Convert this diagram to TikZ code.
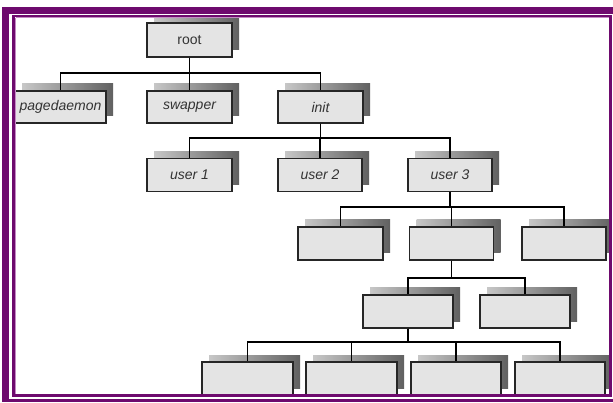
\documentclass[tikz,border=0pt]{standalone}
\usepackage{fontspec}
\setmainfont{Liberation Sans}
\usetikzlibrary{shadows}
\definecolor{pFrame}{HTML}{6E0A6E}
\definecolor{pFrameLight}{HTML}{C48AC4}
\definecolor{pBox}{HTML}{E4E4E4}
\definecolor{pText}{HTML}{333333}

\tikzset{
  proc/.style={draw=black!85, line width=1.3pt, fill=pBox, text=pText,
    minimum width=86pt, minimum height=33pt, inner sep=0pt,
    font=\fontsize{14}{16}\selectfont\itshape,
    general shadow={shadow xshift=7pt, shadow yshift=7pt, draw=none,
      left color=black!22, right color=black!62}},
  treeline/.style={line width=1.8pt, to path={(\tikztostart.south) -- ++(0,#1) -| (\tikztotarget.north)}},
  treeline/.default=15,
}

\begin{document}
\begin{tikzpicture}[x=1pt, y=-1pt]
  \useasboundingbox (0,0) rectangle (613,403);

  \begin{scope}
    \clip (14,17) rectangle (609,394);

    % first level
    \node[proc, minimum width=85pt, minimum height=34pt, font=\fontsize{14}{16}\selectfont] (root) at (189.5,40) {root};
    \node[proc, minimum width=91pt, minimum height=32pt] (pagedaemon) at (60.5,107) {pagedaemon};
    \node[proc, minimum width=85pt, minimum height=32pt] (swapper) at (189.5,107) {swapper};
    \node[proc, minimum width=85pt, minimum height=32pt] (init) at (320.5,107) {init};

    % users
    \node[proc, minimum width=85pt] (user1) at (189.5,175) {user 1};
    \node[proc, minimum width=84pt] (user2) at (320,175) {user 2};
    \node[proc, minimum width=84pt] (user3) at (450,175) {user 3};

    % processes of user 3
    \node[proc, minimum width=85pt] (p1) at (340.5,243.5) {};
    \node[proc, minimum width=84pt] (p2) at (451.5,243.5) {};
    \node[proc, minimum width=84pt] (p3) at (564,243.5) {};

    \node[proc, minimum width=90pt] (q1) at (408,311.5) {};
    \node[proc, minimum width=90pt] (q2) at (525,311.5) {};

    \node[proc, minimum width=91pt] (r1) at (247.5,378.5) {};
    \node[proc, minimum width=91pt] (r2) at (351.5,378.5) {};
    \node[proc, minimum width=90pt] (r3) at (456,378.5) {};
    \node[proc, minimum width=90pt] (r4) at (560,378.5) {};

    % connectors
    \draw (root) edge[treeline] (pagedaemon) edge[treeline] (swapper) edge[treeline] (init);
    \draw (init) edge[treeline=14] (user1) edge[treeline=14] (user2) edge[treeline=14] (user3);
    \draw (user3) edge[treeline] (p1) edge[treeline] (p2) edge[treeline] (p3);
    \draw (p2) edge[treeline=17] (q1) edge[treeline=17] (q2);
    \draw (q1) edge[treeline=13] (r1) edge[treeline=13] (r2) edge[treeline=13] (r3) edge[treeline=13] (r4);
  \end{scope}

  % frame
  \fill[pFrame] (2,7) rectangle (613,14);
  \fill[pFrame] (2,7) rectangle (9,402);
  \fill[pFrame] (2,399) rectangle (613,402);
  \draw[pFrame, line width=2.5pt] (13.5,16) rectangle (610.5,395.5);
  \draw[pFrameLight, line width=1pt] (15.5,18) -- (15.5,393.5);
  \draw[pFrameLight, line width=1pt] (15.5,18) -- (608.5,18);
\end{tikzpicture}
\end{document}
